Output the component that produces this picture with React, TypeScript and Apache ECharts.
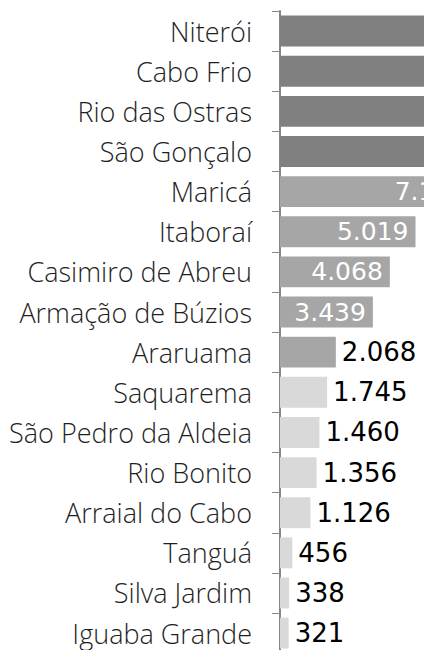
import React, { useEffect, useRef } from "react";
import * as echarts from "echarts";

const categories = [
  "Niterói",
  "Cabo Frio",
  "Rio das Ostras",
  "São Gonçalo",
  "Maricá",
  "Itaboraí",
  "Casimiro de Abreu",
  "Armação de Búzios",
  "Araruama",
  "Saquarema",
  "São Pedro da Aldeia",
  "Rio Bonito",
  "Arraial do Cabo",
  "Tanguá",
  "Silva Jardim",
  "Iguaba Grande",
];

const values = [
  16850, 12340, 9870, 8420, 7156, 5019, 4068, 3439, 2068, 1745, 1460, 1356,
  1126, 456, 338, 321,
];

// colour group per bar: 0 = dark, 1 = medium, 2 = light
const groups = [0, 0, 0, 0, 1, 1, 1, 1, 1, 2, 2, 2, 2, 2, 2, 2];
// label placement: "none" = beyond the visible crop, "in" = inside bar (white), "out" = outside (black)
const labelMode = [
  "none", "none", "none", "none", "in", "in", "in", "in", "out", "out", "out",
  "out", "out", "out", "out", "out",
];

const groupColors = ["#808080", "#a6a6a6", "#d9d9d9"];

const fmt = (v: number) =>
  String(Math.round(v)).replace(/\B(?=(\d{3})+(?!\d))/g, ".");

const PX_PER_UNIT = 0.027;
const X_MAX = 25000;

export default function App() {
  const ref = useRef<HTMLDivElement>(null);
  useEffect(() => {
    if (!ref.current) return;
    const chart = echarts.init(ref.current, undefined, { renderer: "svg" });
    const data = values.map((v, i) => ({
      value: v,
      itemStyle: { color: groupColors[groups[i]] },
      label:
        labelMode[i] === "none"
          ? { show: false }
          : labelMode[i] === "in"
          ? {
              position: "insideRight",
              distance: 7,
              color: "#ffffff",
              fontSize: 25,
            }
          : {
              position: "right",
              distance: 6,
              color: "#000000",
              fontSize: 26,
            },
    }));
    chart.setOption({
      animation: false,
      backgroundColor: "#ffffff",
      grid: {
        left: 280,
        top: 11,
        height: 642.2,
        width: X_MAX * PX_PER_UNIT,
        containLabel: false,
      },
      xAxis: {
        type: "value",
        min: 0,
        max: X_MAX,
        show: false,
      },
      yAxis: {
        type: "category",
        data: categories,
        inverse: true,
        axisLine: { show: true, lineStyle: { color: "#868686", width: 2 } },
        axisTick: {
          show: true,
          length: 8,
          lineStyle: { color: "#868686", width: 1 },
        },
        axisLabel: {
          margin: 28,
          color: "#1f1f1f",
          fontFamily: "'Open Sans'",
          fontWeight: 300,
          fontSize: 27,
          lineHeight: 24,
        },
        splitLine: { show: false },
      },
      series: [
        {
          type: "bar",
          data,
          barCategoryGap: "23%",
          label: {
            show: true,
            formatter: (p: any) => fmt(p.value),
            fontFamily: "'DejaVu Sans'",
            fontSize: 25,
            lineHeight: 24,
          },
        },
      ],
    });
    return () => chart.dispose();
  }, []);
  return (
    <div
      style={{
        position: "fixed",
        left: 0,
        top: 0,
        width: 424,
        height: 650,
        overflow: "hidden",
        background: "#fff",
      }}
    >
      <div ref={ref} style={{ width: 1000, height: 660 }} />
    </div>
  );
}
